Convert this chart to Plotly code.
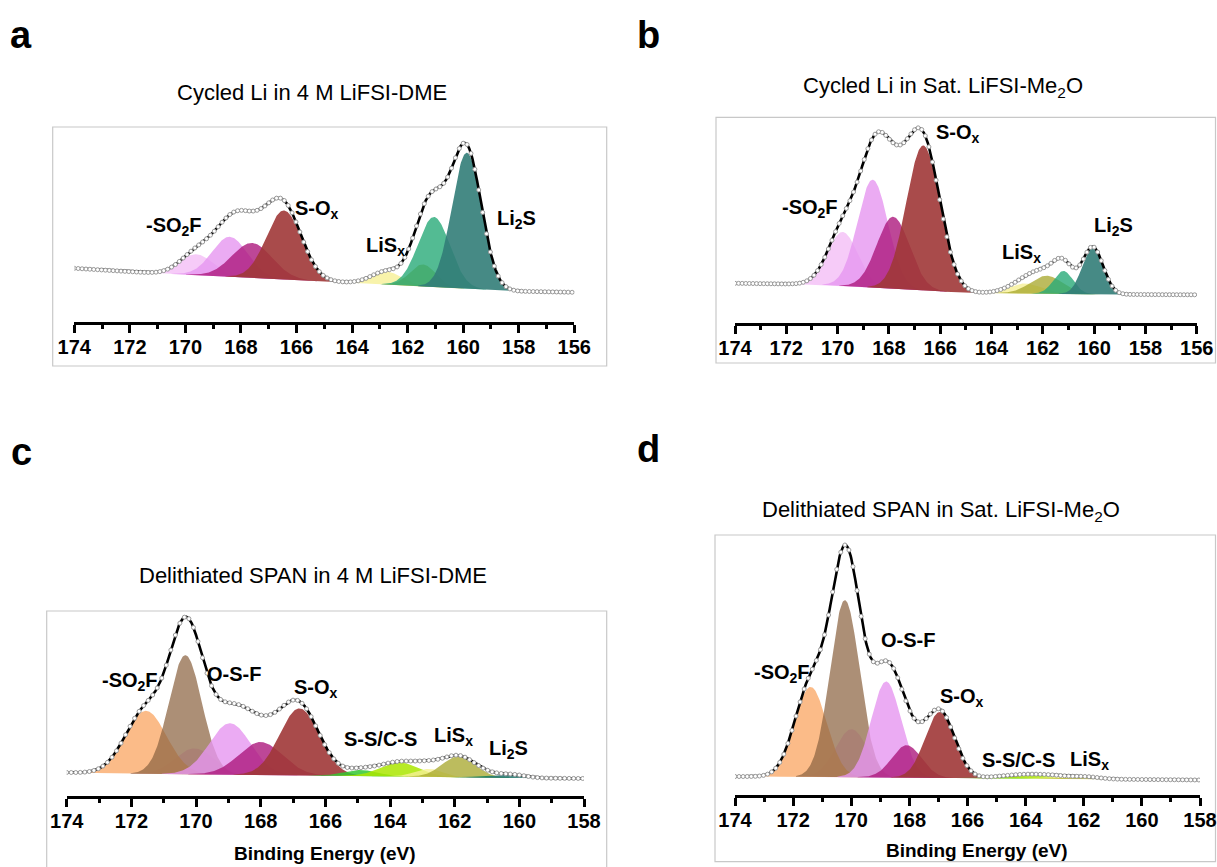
import numpy as np
import plotly.graph_objects as go

W, H = 1217, 867

# ---------------- data ----------------
# Panel a : Cycled Li in 4 M LiFSI-DME  (peak centre eV, height, FWHM eV)
a_species = ["lightpink", "pink", "magenta", "red", "yellow", "olive", "green", "teal"]
a_center = [169.6, 168.4, 167.6, 166.45, 162.75, 161.45, 161.05, 159.87]
a_height = [21, 40, 35, 69, 13, 22, 70, 136]
a_fwhm = [1.4, 1.5, 1.7, 1.5, 1.3, 1.1, 1.35, 1.25]
a_bg_be = [174, 171, 164, 158, 156]
a_bg = [54, 49, 39.5, 31, 30]
a_labels = ["-SO<sub>2</sub>F", "S-O<sub>x</sub>", "LiS<sub>x</sub>", "Li<sub>2</sub>S"]

# Panel b : Cycled Li in Sat. LiFSI-Me2O
b_species = ["lightpink", "pink", "magenta", "red", "yellow", "olive", "green", "teal"]
b_center = [169.8, 168.63, 167.83, 166.66, 162.7, 161.85, 161.2, 160.05]
b_height = [54, 108, 72, 145, 10, 18, 23, 47]
b_fwhm = [1.4, 1.4, 1.5, 1.55, 1.5, 1.5, 0.9, 0.95]
b_bg_be = [174, 171, 165, 160, 156]
b_bg = [40, 39, 30.5, 29, 28.5]
b_labels = ["-SO<sub>2</sub>F", "S-O<sub>x</sub>", "LiS<sub>x</sub>", "Li<sub>2</sub>S"]

# Panel c : Delithiated SPAN in 4 M LiFSI-DME
c_species = ["lightpink", "orange", "brown", "pink", "magenta", "red",
             "brightgreen", "lime", "yellow", "olive", "darkgreen", "teal"]
c_center = [170.05, 171.55, 170.33, 168.95, 168.0, 166.8,
            164.9, 163.7, 162.8, 161.87, 161.0, 160.25]
c_height = [26, 63, 119, 51.5, 33, 67, 6, 14, 8, 21, 2, 3.5]
c_fwhm = [1.4, 1.5, 1.2, 1.5, 1.6, 1.45, 1.2, 1.4, 1.0, 1.2, 0.8, 1.0]
c_bg_be = [174, 172.5, 165, 160, 158]
c_bg = [23.5, 22.5, 20, 18, 17.5]
c_labels = ["-SO<sub>2</sub>F", "O-S-F", "S-O<sub>x</sub>", "S-S/C-S", "LiS<sub>x</sub>", "Li<sub>2</sub>S"]

# Panel d : Delithiated SPAN in Sat. LiFSI-Me2O
d_species = ["lightpink", "orange", "brown", "pink", "magenta", "red",
             "brightgreen", "lime", "yellow", "olive"]
d_center = [169.99, 171.4, 170.22, 168.8, 168.09, 166.95, 164.8, 163.85, 163.0, 162.0]
d_height = [48, 90, 177, 96, 32.5, 66, 1.5, 4, 2, 2.5]
d_fwhm = [1.3, 1.3, 1.2, 1.2, 1.2, 1.2, 1.2, 1.4, 1.0, 1.2]
d_bg_be = [174, 172, 166, 160, 158]
d_bg = [18.5, 18.3, 16.8, 15.5, 15]
d_labels = ["-SO<sub>2</sub>F", "O-S-F", "S-O<sub>x</sub>", "S-S/C-S", "LiS<sub>x</sub>"]

titles = ["Cycled Li in 4 M LiFSI-DME",
          "Cycled Li in Sat. LiFSI-Me<sub>2</sub>O",
          "Delithiated SPAN in 4 M LiFSI-DME",
          "Delithiated SPAN in Sat. LiFSI-Me<sub>2</sub>O"]
letters = ["a", "b", "c", "d"]
xlabel = "Binding Energy (eV)"

# ---------------- styles ----------------
palette = {
    "lightpink": "rgba(244,190,246,0.80)",
    "pink": "rgba(230,150,240,0.80)",
    "magenta": "rgba(172,25,125,0.80)",
    "red": "rgba(160,55,55,0.90)",
    "yellow": "rgba(246,240,150,0.80)",
    "olive": "rgba(165,165,40,0.75)",
    "green": "rgba(40,170,120,0.80)",
    "teal": "rgba(50,125,120,0.90)",
    "orange": "rgba(250,175,115,0.85)",
    "brown": "rgba(140,100,65,0.72)",
    "brightgreen": "rgba(50,200,50,0.85)",
    "lime": "rgba(170,230,0,0.85)",
    "darkgreen": "rgba(20,130,90,0.85)",
}
FONT = "Liberation Sans, Arial, sans-serif"

# pixel geometry of each panel: x of first/last tick, y of axis line, y of plot top
panels = [
    dict(sp=a_species, c=a_center, h=a_height, w=a_fwhm, bgx=a_bg_be, bgy=a_bg, lab=a_labels,
         xr=(174, 156), px=(74.3, 574.3), py=(322.3, 127),
         box=(52.7, 127, 606.7, 366),
         labpos=[(170.42, 96), (165.27, 112.7), (162.79, 76), (158.07, 102.7)],
         title=(312, 93), letter=(21, 35), xt=None),
    dict(sp=b_species, c=b_center, h=b_height, w=b_fwhm, bgx=b_bg_be, bgy=b_bg, lab=b_labels,
         xr=(174, 156), px=(735, 1196.7), py=(323.3, 117.3),
         box=(716, 117.3, 1215.5, 363),
         labpos=[(171.08, 115), (165.29, 190), (162.82, 70), (159.25, 96.7)],
         title=(943, 87), letter=(648, 35), xt=None),
    dict(sp=c_species, c=c_center, h=c_height, w=c_fwhm, bgx=c_bg_be, bgy=c_bg, lab=c_labels,
         xr=(174, 158), px=(66.7, 584), py=(796, 611),
         box=(46.7, 611, 606.7, 872),
         labpos=[(172.04, 115), (168.84, 121.7), (166.29, 108), (164.3, 56.7), (162.04, 60), (160.32, 46.7)],
         title=(313, 575), letter=(21, 452), xt=(325, 853)),
    dict(sp=d_species, c=d_center, h=d_height, w=d_fwhm, bgx=d_bg_be, bgy=d_bg, lab=d_labels,
         xr=(174, 158), px=(735, 1200), py=(795, 535),
         box=(715, 535, 1215.5, 861.7),
         labpos=[(172.39, 121.7), (168.04, 155), (166.2, 98), (164.25, 35), (161.79, 35)],
         title=(941, 511), letter=(648, 449), xt=(977, 850)),
]


def gauss(x, c, h, w):
    return h * np.exp(-4 * np.log(2) * ((x - c) / w) ** 2)


fig = go.Figure()
annotations = []
shapes = []

for i, p in enumerate(panels):
    n = "" if i == 0 else str(i + 1)
    xa, ya = "x" + n, "y" + n
    x = np.arange(p["xr"][0], p["xr"][1] - 0.001, -0.02)
    bg = np.interp(x, p["bgx"][::-1], p["bgy"][::-1])
    env = bg.copy()
    for sp, c, h, w in zip(p["sp"], p["c"], p["h"], p["w"]):
        g = gauss(x, c, h, w)
        env += g
        m = g > 0.004 * h
        xs, ys, bs = x[m], (bg + g)[m], bg[m]
        fig.add_trace(go.Scatter(
            x=np.concatenate([xs, xs[::-1]]), y=np.concatenate([ys, bs[::-1]]),
            fill="toself", fillcolor=palette[sp], line=dict(width=0),
            mode="lines", hoverinfo="skip", showlegend=False, xaxis=xa, yaxis=ya))
    fig.add_trace(go.Scatter(x=x, y=env, mode="lines", line=dict(color="black", width=2.6),
                             showlegend=False, xaxis=xa, yaxis=ya))
    fig.add_trace(go.Scatter(x=x[::7], y=env[::7], mode="markers",
                             marker=dict(symbol="circle", size=4, color="white",
                                         line=dict(color="#9a9a9a", width=1)),
                             showlegend=False, xaxis=xa, yaxis=ya))

    x0, x1 = p["px"]
    yb, yt = p["py"]
    xaxis = dict(domain=[x0 / W, x1 / W], range=list(p["xr"]), anchor=ya,
                 showline=True, linecolor="black", linewidth=2.6,
                 ticks="outside", ticklen=8, tickwidth=2.6, tickcolor="black",
                 tick0=0, dtick=2, automargin=False, ticklabelstandoff=-3,
                 minor=dict(dtick=1, ticks="outside", ticklen=4, tickwidth=2.6, tickcolor="black"),
                 tickfont=dict(family=FONT, size=20, color="black", weight="bold"),
                 showgrid=False, zeroline=False)
    yaxis = dict(domain=[1 - yb / H, 1 - yt / H], range=[0, yb - yt], anchor=xa,
                 visible=False, showgrid=False, zeroline=False, automargin=False)
    fig.layout["xaxis" + n] = xaxis
    fig.layout["yaxis" + n] = yaxis

    for txt, (lx, ly) in zip(p["lab"], p["labpos"]):
        annotations.append(dict(x=lx, y=ly, xref=xa, yref=ya, text="<b>" + txt + "</b>",
                                showarrow=False, xanchor="center", yanchor="middle",
                                font=dict(family=FONT, size=20, color="black")))
    tx, ty = p["title"]
    annotations.append(dict(x=tx / W, y=1 - ty / H, xref="paper", yref="paper", text=titles[i],
                            showarrow=False, xanchor="center", yanchor="middle",
                            font=dict(family=FONT, size=22, color="black")))
    lx, ly = p["letter"]
    annotations.append(dict(x=lx / W, y=1 - ly / H, xref="paper", yref="paper",
                            text="<b>" + letters[i] + "</b>", showarrow=False,
                            xanchor="center", yanchor="middle",
                            font=dict(family=FONT, size=38, color="black")))
    if p["xt"]:
        ax_, ay_ = p["xt"]
        annotations.append(dict(x=ax_ / W, y=1 - ay_ / H, xref="paper", yref="paper",
                                text="<b>" + xlabel + "</b>", showarrow=False,
                                xanchor="center", yanchor="middle",
                                font=dict(family=FONT, size=19, color="black")))
    bx0, by0, bx1, by1 = p["box"]
    shapes.append(dict(type="rect", xref="paper", yref="paper",
                       x0=bx0 / W, x1=bx1 / W, y0=1 - by1 / H, y1=1 - by0 / H,
                       line=dict(color="#c8c8c8", width=1.2), fillcolor="rgba(0,0,0,0)",
                       layer="below"))

fig.update_layout(width=W, height=H,
                  margin=dict(l=0, r=0, t=0, b=0, pad=0, autoexpand=False),
                  paper_bgcolor="white", plot_bgcolor="rgba(0,0,0,0)",
                  annotations=annotations, shapes=shapes, showlegend=False)

fig.write_html("out.html", config={"displayModeBar": False},
               post_script="document.body.style.margin='0';document.body.style.overflow='hidden';")
